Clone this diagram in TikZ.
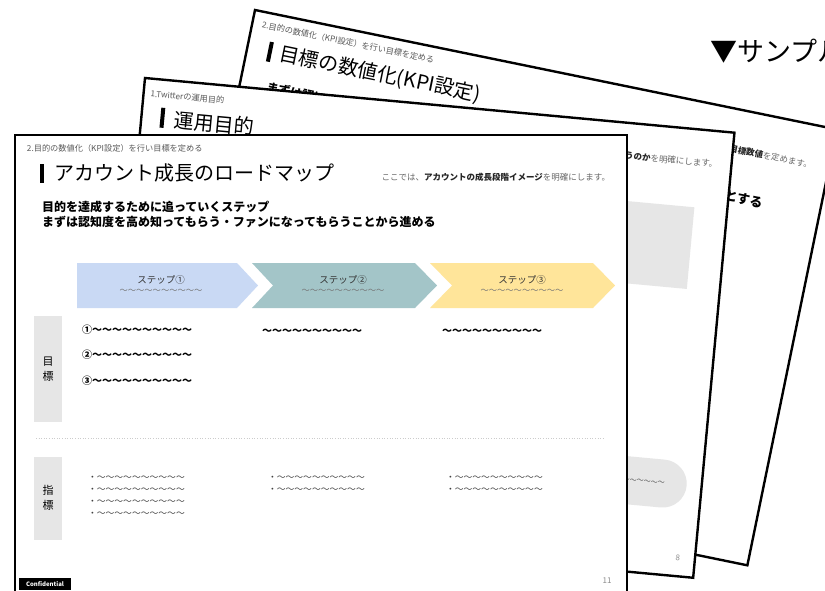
\documentclass[tikz,border=0pt]{standalone}
\usepackage{fontspec}
\setmainfont{Noto Sans CJK JP}
\newcommand\myfs[1]{\fontsize{#1}{#1}\selectfont}
\definecolor{stepA}{HTML}{C9D9F4}
\definecolor{stepB}{HTML}{A3C5C8}
\definecolor{stepC}{HTML}{FFE59A}
\definecolor{boxgray}{HTML}{E6E6E6}
\definecolor{dotgray}{HTML}{CCCCCC}
\begin{document}
\begin{tikzpicture}[x=1pt,y=-1pt,
  every node/.style={inner sep=0pt,outer sep=0pt},
  slide/.style={draw=black,fill=white,line width=2.4pt,line join=miter},
  hdr/.style={anchor=west,font=\myfs{8.2},text=black!65},
  ttl/.style={anchor=west,font=\myfs{20}},
  sub/.style={anchor=east,font=\myfs{8.5},text=black!60},
  lead/.style={anchor=west,font=\bfseries\myfs{12}},
  steplbl/.style={font=\myfs{9.5},text=black!80},
  stepwave/.style={font=\myfs{8.3},text=black!55},
  item/.style={anchor=west,font=\bfseries\myfs{10}},
  bul/.style={anchor=west,font=\myfs{8.8},text=black!75},
  lbltxt/.style={align=center,font=\fontsize{11}{15}\selectfont},
  pgnum/.style={font=\myfs{8},text=black!45}]
\useasboundingbox (0,0) rectangle (825,590);
\clip (0,0) rectangle (825,590);

% ---------- sample label ----------
\node[anchor=west,font=\myfs{27}] (sample) at (710,51) {▼サンプル};

% ---------- back slide ----------
\begin{scope}[shift={(255,10)},rotate=-11.6,transform shape]
  \draw[slide] (0,0) rectangle (594,445);
  \node[hdr] (bhdr) at (10,13) {2.目的の数値化（KPI設定）を行い目標を定める};
  \fill (21,28) rectangle (25,48);
  \node[ttl] (bttl) at (33,38) {目標の数値化(KPI設定)};
  \node[lead] (blead) at (27,73) {まずは認知度を高める};
  \node[sub] (bsub) at (577,40) {\textbf{\color{black!85}目標数値}を定めます。};
  \node[anchor=east,font=\bfseries\myfs{13}] (bend) at (536,87) {とする};
\end{scope}

% ---------- middle slide ----------
\begin{scope}[shift={(145,78)},rotate=-5.3,transform shape]
  \draw[slide] (0,0) rectangle (592,447);
  \node[hdr] (mhdr) at (7,15) {1.Twitterの運用目的};
  \fill (19,28) rectangle (23,48);
  \node[ttl] (mttl) at (33,39) {運用目的};
  \node[sub] (msub) at (578,33) {\textbf{\color{black!85}行うのか}を明確にします。};
  \fill[boxgray] (300,78) rectangle (559,160);
  \fill[boxgray,rounded corners=24pt] (380,332) rectangle (577,380);
  \node[anchor=east,font=\myfs{7},text=black!70] (mpill) at (555,356) {～～～～～～～～～～～～};
  \node[pgnum] (mpg) at (575,429) {8};
\end{scope}

% ---------- front slide ----------
\draw[slide,line width=2.8pt] (15,135) rectangle (627,596);
\node[hdr] (fhdr) at (27,148) {2.目的の数値化（KPI設定）を行い目標を定める};
\fill (40,164) rectangle (44,183);
\node[ttl] (fttl) at (54,173) {アカウント成長のロードマップ};
\node[sub] (fsub) at (610,177) {ここでは、\textbf{\color{black!85}アカウントの成長段階イメージ}を明確にします。};
\node[lead] (flead1) at (42,207) {目的を達成するために追っていくステップ};
\node[lead] (flead2) at (42,222) {まずは認知度を高め知ってもらう・ファンになってもらうことから進める};

% chevrons
\fill[stepA] (77,263) -- (237,263) -- (258,285.5) -- (237,308) -- (77,308) -- cycle;
\fill[stepB] (252,263) -- (415,263) -- (437,285.5) -- (415,308) -- (252,308) -- (273,285.5) -- cycle;
\fill[stepC] (430,263) -- (593,263) -- (615,285.5) -- (593,308) -- (430,308) -- (452,285.5) -- cycle;
\node[steplbl] (s1) at (161,280) {ステップ①};
\node[stepwave] (s1w) at (161,291) {～～～～～～～～～～};
\node[steplbl] (s2) at (343,280) {ステップ②};
\node[stepwave] (s2w) at (343,291) {～～～～～～～～～～};
\node[steplbl] (s3) at (522,280) {ステップ③};
\node[stepwave] (s3w) at (522,291) {～～～～～～～～～～};

% goal row
\fill[boxgray] (34,316) rectangle (62,422);
\node[lbltxt] (goal) at (48,369) {目\\標};
\node[item] (g1) at (82,330) {①～～～～～～～～～～};
\node[item] (g2) at (82,355) {②～～～～～～～～～～};
\node[item] (g3) at (82,381) {③～～～～～～～～～～};
\node[item] (g4) at (262,332) {～～～～～～～～～～};
\node[item] (g5) at (442,332) {～～～～～～～～～～};

\draw[dotgray,dotted,line width=0.6pt] (36,438) -- (605,438);

% indicator row
\fill[boxgray] (34,457) rectangle (62,540);
\node[lbltxt] (kpi) at (48,498) {指\\標};
\node[bul] (b1) at (88,478) {・～～～～～～～～～～};
\node[bul] (b2) at (88,490) {・～～～～～～～～～～};
\node[bul] (b3) at (88,502) {・～～～～～～～～～～};
\node[bul] (b4) at (88,514) {・～～～～～～～～～～};
\node[bul] (b5) at (268,478) {・～～～～～～～～～～};
\node[bul] (b6) at (268,490) {・～～～～～～～～～～};
\node[bul] (b7) at (446,478) {・～～～～～～～～～～};
\node[bul] (b8) at (446,490) {・～～～～～～～～～～};

% footer
\node[fill=black,text=white,font=\bfseries\myfs{6},minimum width=52pt,minimum height=12pt] (conf) at (45,584) {Confidential};
\node[pgnum] (fpg) at (607,581) {11};
\end{tikzpicture}
\end{document}
